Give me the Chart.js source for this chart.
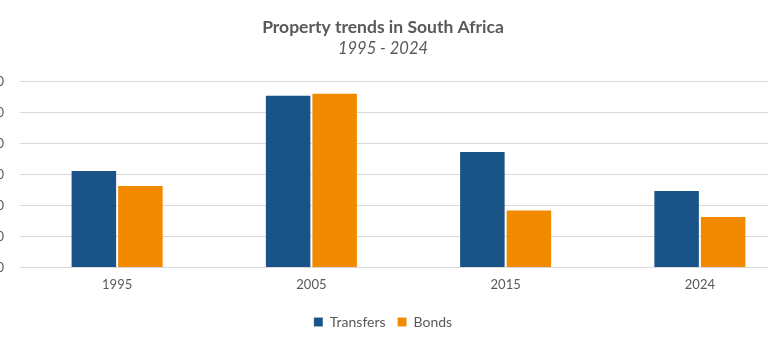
<!DOCTYPE html>
<html>
<head>
<meta charset="utf-8">
<script src="https://cdn.jsdelivr.net/npm/chart.js@4"></script>
<style>
  html, body { margin: 0; padding: 0; background: #ffffff; }
  #wrap { position: relative; width: 768px; height: 350px; overflow: hidden; }
  #holder { position: absolute; left: -31px; top: 0; width: 828px; height: 350px; }
</style>
</head>
<body>
<div id="wrap"><div id="holder"><canvas id="c"></canvas></div></div>
<script>
const categories = ["1995", "2005", "2015", "2024"];
const transfers = [157500, 279000, 188000, 125000];
const bonds = [133000, 282500, 93500, 83000];
const yTicks = [0, 50000, 100000, 150000, 200000, 250000, 300000];

const FONT = "Lato, 'Open Sans', sans-serif";
const TEXT = "#595959";
const GRID = "#d9d9d9";

new Chart(document.getElementById("c"), {
  type: "bar",
  data: {
    labels: categories,
    datasets: [
      { label: "Transfers", data: transfers, backgroundColor: "#1a5387", borderColor: "rgba(255,255,255,0.15)", borderWidth: 1 },
      { label: "Bonds", data: bonds, backgroundColor: "#f28a00", borderColor: "rgba(255,255,255,0.15)", borderWidth: 1 }
    ]
  },
  options: {
    responsive: true,
    maintainAspectRatio: false,
    animation: false,
    layout: { padding: { top: 0, right: 0, bottom: 11, left: 0 } },
    datasets: { bar: { categoryPercentage: 0.479, barPercentage: 1.0 } },
    plugins: {
      title: {
        display: true,
        text: "Property trends in South Africa",
        color: TEXT,
        font: { family: FONT, size: 17.5, weight: "bold" },
        padding: { top: 17, bottom: 1 }
      },
      subtitle: {
        display: true,
        text: "1995 - 2024",
        color: TEXT,
        font: { family: FONT, size: 16.5, style: "italic" },
        padding: { top: 0, bottom: 23 }
      },
      legend: {
        position: "bottom",
        labels: {
          color: TEXT,
          font: { family: FONT, size: 14 },
          boxWidth: 9,
          boxHeight: 9,
          padding: 12
        }
      },
      tooltip: { enabled: false }
    },
    scales: {
      x: {
        grid: { display: false, drawTicks: false },
        border: { display: true, color: GRID, width: 1 },
        ticks: { color: TEXT, font: { family: FONT, size: 13 }, padding: 10 }
      },
      y: {
        min: 0,
        max: 300000,
        afterFit: (s) => { s.width = 51; },
        afterBuildTicks: (s) => { s.ticks = yTicks.map(v => ({ value: v })); },
        grid: { color: GRID, lineWidth: 1, drawTicks: false },
        border: { display: false },
        ticks: {
          color: TEXT,
          font: { family: FONT, size: 13 },
          padding: 16,
          callback: (v) => v.toLocaleString("en-US")
        }
      }
    }
  }
});
</script>
</body>
</html>
